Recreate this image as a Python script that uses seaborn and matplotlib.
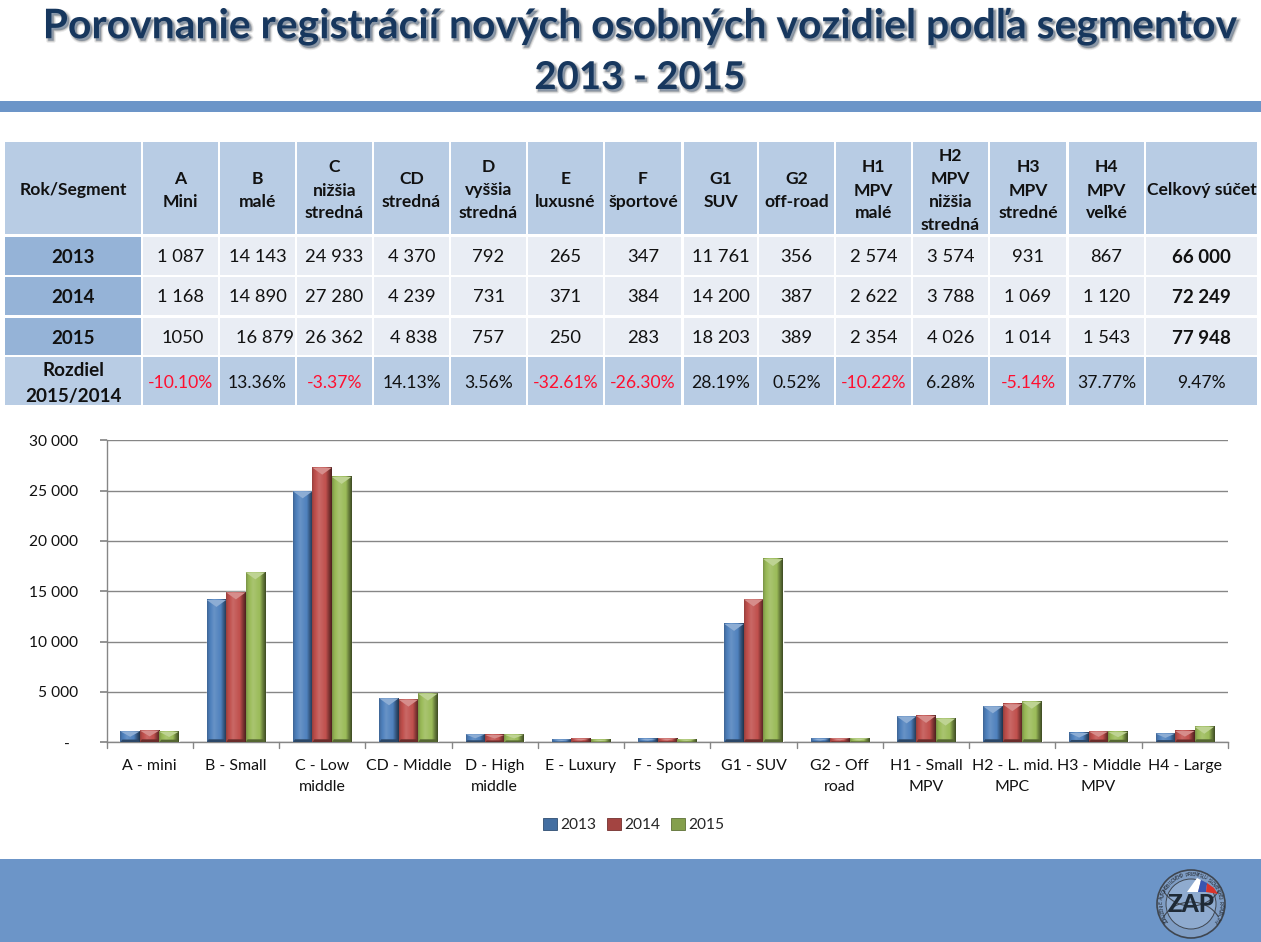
import numpy as np
import pandas as pd
import matplotlib
matplotlib.use("Agg")
import matplotlib.pyplot as plt
import matplotlib.patheffects as pe
from matplotlib.patches import Rectangle, Polygon, Circle, Patch, Arc
import seaborn as sns

# ---------- data ----------
chart_categories = ["A - mini", "B - Small", "C - Low\nmiddle", "CD - Middle", "D - High\nmiddle",
                    "E - Luxury", "F - Sports", "G1 - SUV", "G2 - Off\nroad", "H1 - Small\nMPV",
                    "H2 - L. mid.\nMPC", "H3 - Middle\nMPV", "H4 - Large"]
values_2013 = [1087, 14143, 24933, 4370, 792, 265, 347, 11761, 356, 2574, 3574, 931, 867]
values_2014 = [1168, 14890, 27280, 4239, 731, 371, 384, 14200, 387, 2622, 3788, 1069, 1120]
values_2015 = [1050, 16879, 26362, 4838, 757, 250, 283, 18203, 389, 2354, 4026, 1014, 1543]
years = ["2013", "2014", "2015"]
y_ticks = [0, 5000, 10000, 15000, 20000, 25000, 30000]
y_tick_labels = ["-  ", "5 000", "10 000", "15 000", "20 000", "25 000", "30 000"]

table_header = ["Rok/Segment", "A\nMini", "B\nmalé", "C\nnižšia\nstredná", "CD\nstredná",
                "D\nvyššia\nstredná", "E\nluxusné", "F\nšportové", "G1\nSUV", "G2\noff-road",
                "H1\nMPV\nmalé", "H2\nMPV\nnižšia\nstredná", "H3\nMPV\nstredné", "H4\nMPV\nveľké",
                "Celkový súčet"]
row_2013 = ["2013", "1 087", "14 143", "24 933", "4 370", "792", "265", "347", "11 761", "356",
            "2 574", "3 574", "931", "867", "66 000"]
row_2014 = ["2014", "1 168", "14 890", "27 280", "4 239", "731", "371", "384", "14 200", "387",
            "2 622", "3 788", "1 069", "1 120", "72 249"]
row_2015 = ["2015", "1050", "16 879", "26 362", "4 838", "757", "250", "283", "18 203", "389",
            "2 354", "4 026", "1 014", "1 543", "77 948"]
row_diff = ["Rozdiel\n2015/2014", "-10.10%", "13.36%", "-3.37%", "14.13%", "3.56%", "-32.61%",
            "-26.30%", "28.19%", "0.52%", "-10.22%", "6.28%", "-5.14%", "37.77%", "9.47%"]

title_lines = ["Porovnanie registrácií nových osobných vozidiel podľa segmentov", "2013 - 2015"]

# ---------- style ----------
sns.set_theme(style="white")
plt.rcParams["font.family"] = ["Lato", "DejaVu Sans"]
W, H = 1261, 942
fig = plt.figure(figsize=(W / 100, H / 100), dpi=100, facecolor="white")

bg = fig.add_axes([0, 0, 1, 1])
bg.set_xlim(0, W)
bg.set_ylim(H, 0)
bg.axis("off")

BAND = "#6C95C8"
bg.add_patch(Rectangle((0, 101), W, 11, color=BAND, lw=0))
bg.add_patch(Rectangle((0, 859), W, 83, color=BAND, lw=0))

# title
title_fx = [pe.Stroke(offset=(1.6, -1.8), linewidth=3.0, foreground="#8a8a8a", alpha=0.18),
            pe.Stroke(offset=(1.6, -1.8), linewidth=1.4, foreground="#8a8a8a", alpha=0.35),
            pe.Normal()]
for line, y, tfs in zip(title_lines, (27, 78), (29.4, 27.6)):
    bg.text(640, y, line, ha="center", va="center", fontsize=tfs, fontweight="bold", color="#17375E",
            path_effects=title_fx)

# ---------- table ----------
col_edges = [(5, 141), (143, 218), (220, 295), (297, 372), (374, 449), (451, 526), (528, 603), (605, 681),
             (684, 757), (759, 834), (836, 911), (913, 988), (990, 1066), (1069, 1144), (1146, 1257)]
row_edges = [(142, 234), (237, 275), (277, 315), (318, 355), (357, 405)]
HEAD = "#B8CCE4"
LIGHT = "#E9EDF4"
ROWHEAD = "#95B3D7"
rows = [table_header, row_2013, row_2014, row_2015, row_diff]
nudges = {(3, 1): 2, (3, 2): 7, (3, 4): 2}
for r, (row, (y0, y1)) in enumerate(zip(rows, row_edges)):
    for c, (txt, (x0, x1)) in enumerate(zip(row, col_edges)):
        if r in (0, 4):
            face = HEAD
        else:
            face = ROWHEAD if c == 0 else LIGHT
        bg.add_patch(Rectangle((x0, y0), x1 - x0, y1 - y0, facecolor=face, lw=0))
        bold = r == 0 or c == 0 or (c == 14 and r in (1, 2, 3))
        color = "#FF0F2F" if r == 4 and txt.startswith("-") else "#111111"
        fs = 13.2
        if r == 0:
            fs = 12.6
        elif bold and r != 4:
            fs = 13.5
        elif r == 4:
            fs = 12.6 if c else 13.6
        cx = (x0 + x1) / 2 + nudges.get((r, c), 0)
        lines = txt.split("\n")
        step = 23 if r == 0 else 26
        cy = (y0 + y1) / 2 + (2.5 if r in (0, 4) else 1.5)
        for i, ln in enumerate(lines):
            bg.text(cx, cy + (i - (len(lines) - 1) / 2) * step, ln, ha="center", va="center",
                    fontsize=fs, fontweight="bold" if bold else "normal", color=color)

# ---------- chart ----------
df = pd.DataFrame({
    "segment": chart_categories * 3,
    "year": sum([[y] * len(chart_categories) for y in years], []),
    "value": values_2013 + values_2014 + values_2015,
})
colors = ["#4F81BD", "#C0504D", "#9BBB59"]
ax_l, ax_r, ax_t, ax_b = 106.5, 1228, 440.3, 742.3
ax = fig.add_axes([ax_l / W, 1 - ax_b / H, (ax_r - ax_l) / W, (ax_b - ax_t) / H])
ax.patch.set_alpha(0)
sns.barplot(data=df, x="segment", y="value", hue="year", hue_order=years, palette=colors,
            width=0.677, gap=0, saturation=1, legend=False, ax=ax, zorder=3)
ax.set_ylim(0, 30000)
ax.set_xlim(-0.5, len(chart_categories) - 0.5)
ax.set_xlabel("")
ax.set_ylabel("")
ax.set_yticks(y_ticks, y_tick_labels)
ax.set_xticks(range(len(chart_categories)), chart_categories)
ax.yaxis.grid(True, color="#868686", lw=1)
ax.xaxis.grid(False)
ax.set_axisbelow(True)
for s in ("top", "right"):
    ax.spines[s].set_visible(False)
for s in ("left", "bottom"):
    ax.spines[s].set_color("#868686")
    ax.spines[s].set_linewidth(1)
ax.tick_params(axis="x", length=0, labelsize=11.4, pad=12, labelcolor="#111111")
ax.tick_params(axis="y", length=4.7, left=True, labelsize=11.2, pad=16, color="#868686", labelcolor="#111111")
for lab in ax.get_xticklabels():
    lab.set_linespacing(1.62)
for b in np.arange(-0.5, len(chart_categories), 1):
    ax.plot([b, b], [0, -0.0175], transform=ax.get_xaxis_transform(), color="#868686", lw=1, clip_on=False)

# bevel on each bar: read the geometry back from the drawn patches
def shade(hex_col, f):
    rgb = np.array(matplotlib.colors.to_rgb(hex_col))
    return tuple(rgb * f) if f <= 1 else tuple(rgb + (1 - rgb) * (f - 1))

px_y = 30000 / (ax_b - ax_t)
bars = [p for p in ax.patches if p.get_height() > 0]
for p in bars:
    base = p.get_facecolor()
    x0, w, h = p.get_x(), p.get_width(), p.get_height()
    t = np.linspace(0, 1, 24)
    prof = np.interp(t, [0, 0.1, 0.35, 0.7, 0.9, 1], [0.8, 0.95, 1.14, 1.0, 0.6, 0.42])
    img = np.zeros((1, 24, 3))
    for i, f in enumerate(prof):
        img[0, i] = shade(base, f)
    ax.imshow(img, extent=(x0, x0 + w, 0, h), aspect="auto", zorder=4, interpolation="bilinear")
    cap = min(h * 0.5, 7 * px_y)
    ax.add_patch(Polygon([(x0, h), (x0 + w, h), (x0 + w / 2, h - cap)], closed=True,
                         facecolor=shade(base, 1.35), edgecolor="none", zorder=5))
    foot = min(h * 0.25, 3 * px_y)
    ax.add_patch(Polygon([(x0, 0), (x0 + w, 0), (x0 + w * 0.9, foot), (x0 + w * 0.1, foot)], closed=True,
                         facecolor=shade(base, 0.55), edgecolor="none", zorder=5))
ax.set_xlim(-0.5, len(chart_categories) - 0.5)
ax.set_ylim(0, 30000)

# legend
handles = [Patch(facecolor=shade(c, 0.85), edgecolor=shade(c, 0.6), lw=0.6) for c in colors]
fig.legend(handles, years, loc="center", bbox_to_anchor=(634 / W, 1 - 825 / H), ncol=3, frameon=False,
           fontsize=11.2, handlelength=0.85, handleheight=0.85, handletextpad=0.25, columnspacing=0.7)

# ---------- logo ----------
cx, cy = 1191, 904
LINE = "#3F4650"
bg.add_patch(Circle((cx, cy), 34, facecolor="#7F9DC4", edgecolor=LINE, lw=1.2, zorder=6))
bg.add_patch(Circle((cx, cy), 25, facecolor="#8FABCF", edgecolor=LINE, lw=0.7, zorder=6))
bg.add_patch(Arc((cx, cy + 26), 62, 56, theta1=205, theta2=335, color=LINE, lw=0.8, zorder=7))
bg.add_patch(Arc((cx, cy - 26), 62, 56, theta1=25, theta2=155, color=LINE, lw=0.8, zorder=7))
bg.add_patch(Polygon([(1187, 892), (1197, 878), (1201, 880), (1198, 892)], facecolor="white", lw=0, zorder=8))
bg.add_patch(Polygon([(1198, 892), (1201, 880), (1207, 883), (1206, 892)], facecolor="#3A55B0", lw=0, zorder=8))
bg.add_patch(Polygon([(1206, 892), (1207, 883), (1214, 888), (1218, 894)], facecolor="#D9342B", lw=0, zorder=8))
bg.text(cx, cy + 1, "ZAP", ha="center", va="center", fontsize=17.5, fontweight="black", color="#1F2A36", zorder=9)
ring = "ZDRUŽENIE AUTOMOBILOVÉHO PRIEMYSLU SLOVENSKEJ REPUBLIKY"
for i, ch in enumerate(ring):
    a = np.deg2rad(215 - i * (250 / (len(ring) - 1)))
    bg.text(cx + 29.5 * np.cos(a), cy - 29.5 * np.sin(a), ch, ha="center", va="center", fontsize=3.6,
            rotation=np.rad2deg(a) - 90, rotation_mode="anchor", color="#20262E", zorder=9)

fig.savefig("out.png", dpi=100)
